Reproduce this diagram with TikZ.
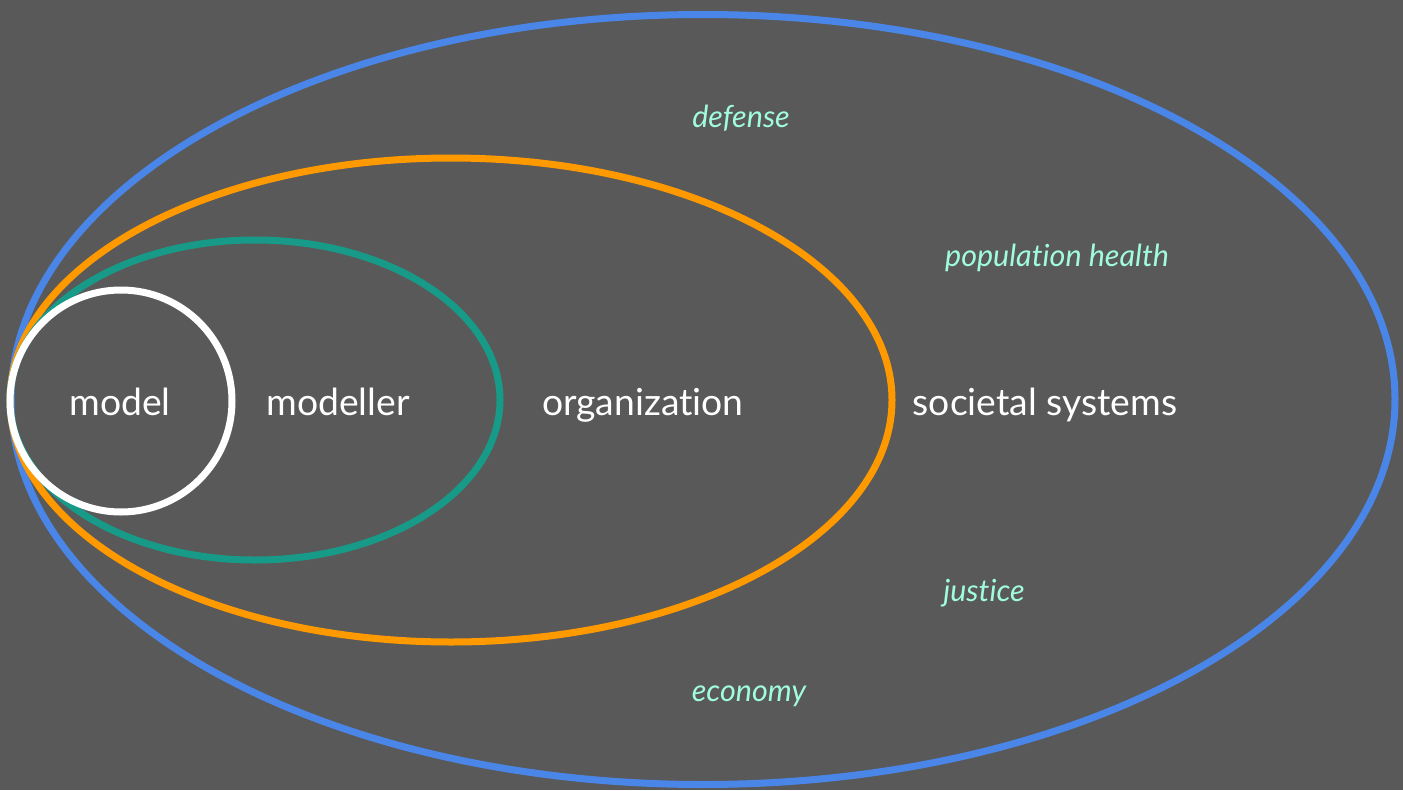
\documentclass[tikz,border=0pt]{standalone}
\usepackage{fontspec}
\setmainfont{Lato}[Ligatures=NoCommon]
\definecolor{bggray}{HTML}{595959}
\definecolor{ringblue}{HTML}{4A86E8}
\definecolor{ringorange}{HTML}{FF9900}
\definecolor{ringteal}{HTML}{179A87}
\definecolor{mint}{HTML}{A0FCDC}
\tikzset{
    ring/.style={line width=7pt},
    tierlabel/.style={anchor=base, text=white, font=\fontsize{37.3}{40}\selectfont},
    sectorlabel/.style={anchor=base, text=mint, font=\fontsize{30.5}{33}\selectfont\itshape}
}
\begin{document}
\begin{tikzpicture}[x=1pt,y=-1pt]
        \fill[bggray] (0,0) rectangle (1403,790);
        \useasboundingbox (0,0) rectangle (1403,790);
        \draw[ring, ringblue] (703,399.5) ellipse [x radius=692, y radius=385];
        \draw[ring, ringorange] (451,400) ellipse [x radius=441, y radius=242];
        \draw[ring, ringteal] (255,400) ellipse [x radius=245, y radius=160];
        \draw[ring, white] (121,401) circle [radius=111];
        \node[tierlabel] (model) at (120,415) {model};
        \node[tierlabel] (modeller) at (338,415) {modeller};
        \node[tierlabel] (organization) at (643,415) {organization};
        \node[tierlabel] (societal) at (1045,415) {societal systems};
        \node[sectorlabel] (defense) at (741,127) {defense};
        \node[sectorlabel] (health) at (1057,266) {population health};
        \node[sectorlabel] (justice) at (984,601) {justice};
        \node[sectorlabel] (economy) at (749,701) {economy};
    \end{tikzpicture}
\end{document}
